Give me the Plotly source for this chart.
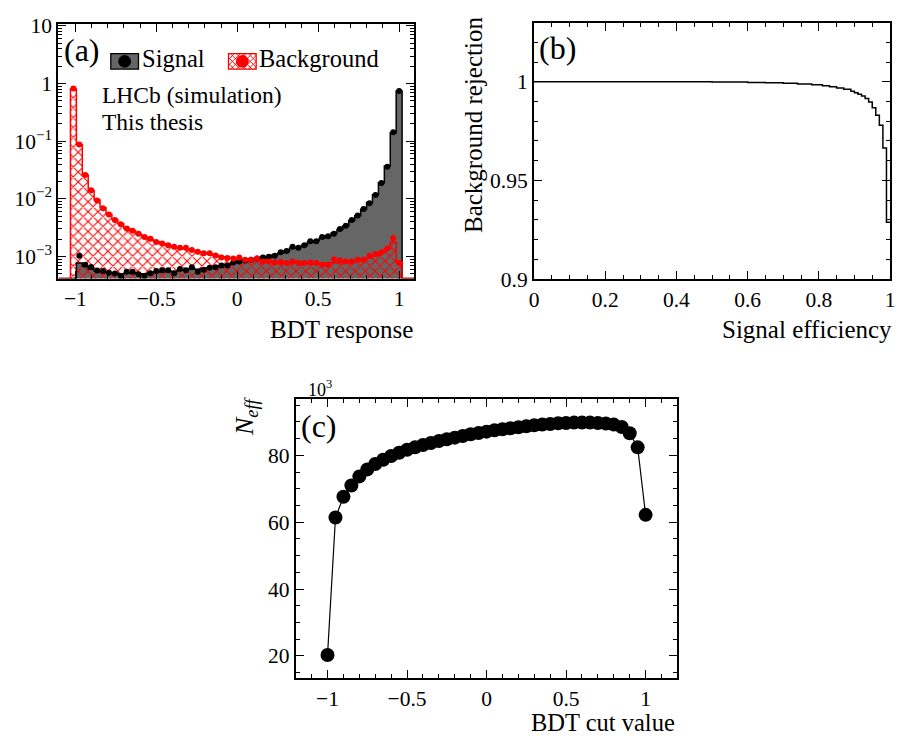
import numpy as np
import plotly.graph_objects as go

W_PX, H_PX = 897, 747
FONT = "Liberation Serif, Times New Roman, serif"
GRAY = "#666666"
RED = "#ff0000"

# ---------------- panel (a): BDT response distributions ----------------
BIN_LO = -1.0305
BIN_W = 0.0366
N_BINS = 56

signal_hist = [None, 7.7e-4, 6.8e-4, 6.0e-4, 5.6e-4, 5.5e-4, 5.3e-4, 5.2e-4, 5.0e-4, 5.1e-4,
               5.2e-4, 5.0e-4, 5.0e-4, 5.2e-4, 5.4e-4, 5.5e-4, 5.6e-4, 5.5e-4, 5.8e-4, 5.9e-4,
               6.2e-4, 6.0e-4, 6.2e-4, 6.4e-4, 6.7e-4, 6.9e-4, 7.2e-4, 7.8e-4, 8.2e-4, 8.5e-4,
               8.9e-4, 9.2e-4, 9.6e-4, 1.0e-3, 1.06e-3, 1.15e-3, 1.25e-3, 1.40e-3, 1.45e-3, 1.57e-3,
               1.78e-3, 1.88e-3, 2.1e-3, 2.3e-3, 2.55e-3, 2.95e-3, 3.4e-3, 4.2e-3, 5.1e-3, 6.6e-3,
               8.6e-3, 0.0118, 0.0190, 0.0370, 0.140, 0.74]
signal_pts = [None, 1.03e-3, 7.2e-4, 6.6e-4, 5.7e-4, 5.6e-4, 5.25e-4, 5.05e-4, 4.6e-4, 5.45e-4,
              5.45e-4, 4.9e-4, 4.6e-4, 5.1e-4, 5.6e-4, 5.75e-4, 5.75e-4, 5.1e-4, 6.1e-4, 5.75e-4,
              6.5e-4, 5.45e-4, 5.9e-4, 6.4e-4, 6.5e-4, 7.0e-4, 7.0e-4, 7.9e-4, 8.2e-4, 8.5e-4,
              8.8e-4, 9.2e-4, 9.6e-4, 9.9e-4, 1.03e-3, 1.18e-3, 1.25e-3, 1.47e-3, 1.42e-3, 1.57e-3,
              1.84e-3, 1.84e-3, 2.17e-3, 2.25e-3, 2.47e-3, 2.99e-3, 3.41e-3, 4.3e-3, 5.14e-3, 6.67e-3,
              8.4e-3, 0.0116, 0.0189, 0.0361, 0.143, 0.74]
bkg_hist = [0.80, 0.088, 0.026, 0.0140, 0.0095, 0.0070, 0.0054, 0.0044, 0.0037, 0.0031,
            0.0028, 0.00245, 0.00218, 0.00200, 0.00180, 0.00167, 0.00155, 0.00144, 0.00138, 0.00135,
            0.00128, 0.00121, 0.00116, 0.00110, 0.00105, 0.00099, 0.00095, 0.00093, 0.00091, 0.00089,
            0.00088, 0.00087, 0.00085, 0.00083, 0.00081, 0.00080, 0.00079, 0.00078, 0.00077, 0.00077,
            0.00077, 0.00076, 0.00076, 0.00077, 0.00078, 0.00079, 0.00080, 0.00081, 0.00083, 0.00086,
            0.00093, 0.00102, 0.00114, 0.00135, 0.00179, 0.00082]
bkg_pts = [0.82, 0.088, 0.0258, 0.0141, 0.0094, 0.0069, 0.00535, 0.0043, 0.00363, 0.00307,
           0.00281, 0.00247, 0.00217, 0.00203, 0.00179, 0.00168, 0.00157, 0.00147, 0.00142, 0.00142,
           0.0013, 0.00121, 0.00114, 0.00114, 0.00104, 0.00096, 0.00094, 0.00092, 0.00096, 0.00088,
           0.00088, 0.00092, 0.00082, 0.00082, 0.00079, 0.00080, 0.00077, 0.00082, 0.00077, 0.00077,
           0.00079, 0.00077, 0.00072, 0.00072, 0.00090, 0.00085, 0.00082, 0.00082, 0.00088, 0.00088,
           0.00103, 0.00110, 0.00118, 0.00138, 0.00209, 0.00077]
a_xticks = [-1, -0.5, 0, 0.5, 1]
a_xlabels = ["\u22121", "\u22120.5", "0", "0.5", "1"]
a_yticks = [1e-3, 1e-2, 1e-1, 1, 10]
a_ylabels = ["10<sup>\u22123</sup>", "10<sup>\u22122</sup>", "10<sup>\u22121</sup>", "1", "10"]

# ---------------- panel (b): ROC curve ----------------
roc_eff = [0.00, 0.50, 0.60, 0.65, 0.70, 0.74, 0.78, 0.81, 0.83, 0.85, 0.87, 0.89, 0.90,
           0.91, 0.92, 0.93, 0.94, 0.95, 0.96, 0.97, 0.98, 0.99, 1.00]
roc_rej = [1.0000, 0.9999, 0.9997, 0.9995, 0.9992, 0.9989, 0.9985, 0.9980, 0.9975, 0.9969,
           0.9962, 0.9952, 0.9945, 0.9937, 0.9928, 0.9915, 0.9898, 0.9869, 0.9831, 0.9780,
           0.9664, 0.9288, 0.9288]
b_xticks = [0, 0.2, 0.4, 0.6, 0.8, 1]
b_xlabels = ["0", "0.2", "0.4", "0.6", "0.8", "1"]
b_yticks = [0.9, 0.95, 1.0]
b_ylabels = ["0.9", "0.95", "1"]

# ---------------- panel (c): N_eff vs BDT cut ----------------
bdt_cut = [-1.00, -0.95, -0.90, -0.85, -0.80, -0.75, -0.70, -0.65, -0.60, -0.55, -0.50,
           -0.45, -0.40, -0.35, -0.30, -0.25, -0.20, -0.15, -0.10, -0.05, 0.00,
           0.05, 0.10, 0.15, 0.20, 0.25, 0.30, 0.35, 0.40, 0.45, 0.50,
           0.55, 0.60, 0.65, 0.70, 0.75, 0.80, 0.85, 0.90, 0.95, 1.00]
neff_k = [20.3, 61.4, 67.6, 71.0, 73.7, 75.8, 77.4, 78.7, 79.8, 80.8, 81.7,
          82.4, 83.1, 83.7, 84.3, 84.8, 85.3, 85.8, 86.3, 86.7, 87.1,
          87.5, 87.8, 88.1, 88.4, 88.7, 89.0, 89.2, 89.4, 89.6, 89.7,
          89.8, 89.8, 89.8, 89.7, 89.5, 89.2, 88.5, 86.6, 82.4, 62.2]
c_xticks = [-1, -0.5, 0, 0.5, 1]
c_xlabels = ["\u22121", "\u22120.5", "0", "0.5", "1"]
c_yticks = [20, 40, 60, 80]

# ---------------- layout geometry (pixels) ----------------
A_RX = [-1.105, 1.095]
A_RY = [-3.382, 1.04]
YB = 10 ** A_RY[0]


def px(x):
    return x / W_PX


def py(y):
    return 1 - y / H_PX


fig = go.Figure()

edges = BIN_LO + BIN_W * np.arange(N_BINS + 1)
centers = BIN_LO + BIN_W * (np.arange(N_BINS) + 0.5)


def outline(vals):
    ys = [YB] + [v if v else YB for v in vals] + [YB, YB]
    xs = [A_RX[0]] + list(edges) + [A_RX[1]]
    return xs, ys


# signal histogram
fig.add_trace(go.Bar(x=centers, y=signal_hist, width=BIN_W, xaxis="x", yaxis="y",
                     marker=dict(color=GRAY, line=dict(width=0))))
xs, ys = outline(signal_hist)
fig.add_trace(go.Scatter(x=xs, y=ys, mode="lines", line=dict(color="black", width=1.5, shape="hv"),
                         xaxis="x", yaxis="y"))
# background histogram (hatched)
fig.add_trace(go.Bar(x=centers, y=bkg_hist, width=BIN_W, xaxis="x", yaxis="y",
                     marker=dict(color="rgba(0,0,0,0)", line=dict(width=0),
                                 pattern=dict(shape="x", fgcolor=RED, bgcolor="rgba(0,0,0,0)",
                                              fgopacity=1, size=7, solidity=0.28,
                                              fillmode="overlay"))))
xs, ys = outline(bkg_hist)
fig.add_trace(go.Scatter(x=xs, y=ys, mode="lines", line=dict(color=RED, width=1.5, shape="hv"),
                         xaxis="x", yaxis="y"))
# points
fig.add_trace(go.Scatter(x=centers, y=signal_pts, mode="markers",
                         marker=dict(color="black", size=6), xaxis="x", yaxis="y"))
fig.add_trace(go.Scatter(x=centers, y=bkg_pts, mode="markers",
                         marker=dict(color=RED, size=6), xaxis="x", yaxis="y"))

# ROC
fig.add_trace(go.Scatter(x=roc_eff, y=roc_rej, mode="lines",
                         line=dict(color="black", width=1.5, shape="hv"), xaxis="x2", yaxis="y2"))

# N_eff
fig.add_trace(go.Scatter(x=bdt_cut, y=neff_k, mode="lines+markers",
                         line=dict(color="black", width=1.2),
                         marker=dict(color="black", size=14), xaxis="x3", yaxis="y3"))

tickfont = dict(family=FONT, size=21.5, color="black")
common = dict(showline=True, linecolor="black", linewidth=2, mirror="allticks",
              ticks="inside", ticklen=8, tickwidth=1.3, tickcolor="black",
              showgrid=False, zeroline=False, tickfont=tickfont, tickmode="array",
              ticklabeloverflow="allow")


def minor(dt=None, vals=None):
    d = dict(ticks="inside", ticklen=4, tickwidth=1.1, tickcolor="black", showgrid=False)
    if vals is not None:
        d.update(tickmode="array", tickvals=vals)
    else:
        d.update(dtick=dt, tick0=0)
    return d


log_minor = [k * 10.0 ** d for d in range(-4, 2) for k in range(2, 10)]

fig.update_layout(
    width=W_PX, height=H_PX, autosize=False,
    margin=dict(l=0, r=0, t=0, b=0, pad=0),
    paper_bgcolor="white", plot_bgcolor="white",
    showlegend=False, barmode="overlay", bargap=0,
    font=dict(family=FONT, size=21, color="black"),
    xaxis=dict(domain=[px(54), px(414)], range=A_RX, anchor="y",
               tickvals=a_xticks, ticktext=a_xlabels, minor=minor(0.1), **common),
    yaxis=dict(domain=[py(277.7), py(15)], type="log", range=A_RY, anchor="x",
               tickvals=a_yticks, ticktext=a_ylabels, minor=minor(vals=log_minor), **common),
    xaxis2=dict(domain=[px(535), px(895)], range=[0, 1], anchor="y2",
                tickvals=b_xticks, ticktext=b_xlabels, minor=minor(0.05), **common),
    yaxis2=dict(domain=[py(278.3), py(14)], range=[0.9, 1.03], anchor="x2",
                tickvals=b_yticks, ticktext=b_ylabels, minor=minor(0.01), **common),
    xaxis3=dict(domain=[px(294), px(680)], range=[-1.2, 1.2], anchor="y3",
                tickvals=c_xticks, ticktext=c_xlabels, minor=minor(0.1), **common),
    yaxis3=dict(domain=[py(689.3), py(401.7)], range=[13.4, 96.9], anchor="x3",
                tickvals=c_yticks, ticktext=[str(v) for v in c_yticks], minor=minor(5), **common),
)

# ---------------- texts ----------------
ann = []


def text(x, y, s, size=25, xanchor="center", yanchor="middle", angle=0):
    ann.append(dict(x=px(x), y=py(y), xref="paper", yref="paper", text=s, showarrow=False,
                    xanchor=xanchor, yanchor=yanchor, textangle=angle, borderpad=0,
                    font=dict(family=FONT, size=size, color="black")))


text(77.5, 42, "(a)", size=32)
text(559, 40, "(b)", size=32)
text(317.5, 430, "(c)", size=32)
text(97, 88.7, "LHCb (simulation)", size=23.5, xanchor="left")
text(97, 116, "This thesis", size=23.5, xanchor="left")
text(138, 50.7, "Signal", size=24.5, xanchor="left")
text(256, 50.7, "Background", size=24.5, xanchor="left")
text(414, 330, "BDT response", xanchor="right")
text(898, 330, "Signal efficiency", xanchor="right")
text(679, 735, "BDT cut value", size=24.5, xanchor="right")
text(474.5, 7, "Background rejection", yanchor="top", angle=-90)
text(243, 399, "<i>N</i><sub><i>eff</i></sub>", size=26, yanchor="top", angle=-90)
text(319, 391, "10<sup>3</sup>", size=18)

# ---------------- legend symbols (drawn as layout shapes) ----------------
shapes = []


def rect(x0, y0, x1, y1, fill, line):
    shapes.append(dict(type="rect", xref="paper", yref="paper", x0=px(x0), x1=px(x1),
                       y0=py(y1), y1=py(y0), fillcolor=fill, line=dict(color=line, width=1.3)))


def seg(xa, ya, xb, yb, color, w=0.9):
    shapes.append(dict(type="line", xref="paper", yref="paper", x0=px(xa), y0=py(ya),
                       x1=px(xb), y1=py(yb), line=dict(color=color, width=w)))


def circle(cx, cy, r, color):
    shapes.append(dict(type="circle", xref="paper", yref="paper", x0=px(cx - r), x1=px(cx + r),
                       y0=py(cy + r), y1=py(cy - r), fillcolor=color, line=dict(color=color, width=0)))


rect(107, 46, 135, 62, GRAY, "black")
circle(121, 54, 6.5, "black")

bx0, by0, bx1, by1 = 226, 46, 254, 62
rect(bx0, by0, bx1, by1, "white", RED)
step = 6
for c in np.arange(bx0 - by1, bx1 - by0 + step, step):
    xa, xb = max(bx0, by0 + c), min(bx1, by1 + c)
    if xb > xa:
        seg(xa, xa - c, xb, xb - c, RED)
for c in np.arange(bx0 + by0, bx1 + by1 + step, step):
    xa, xb = max(bx0, c - by1), min(bx1, c - by0)
    if xb > xa:
        seg(xa, c - xa, xb, c - xb, RED)
circle(240, 54, 6.5, RED)

fig.update_layout(annotations=ann, shapes=shapes)

fig.write_html("out.html")
